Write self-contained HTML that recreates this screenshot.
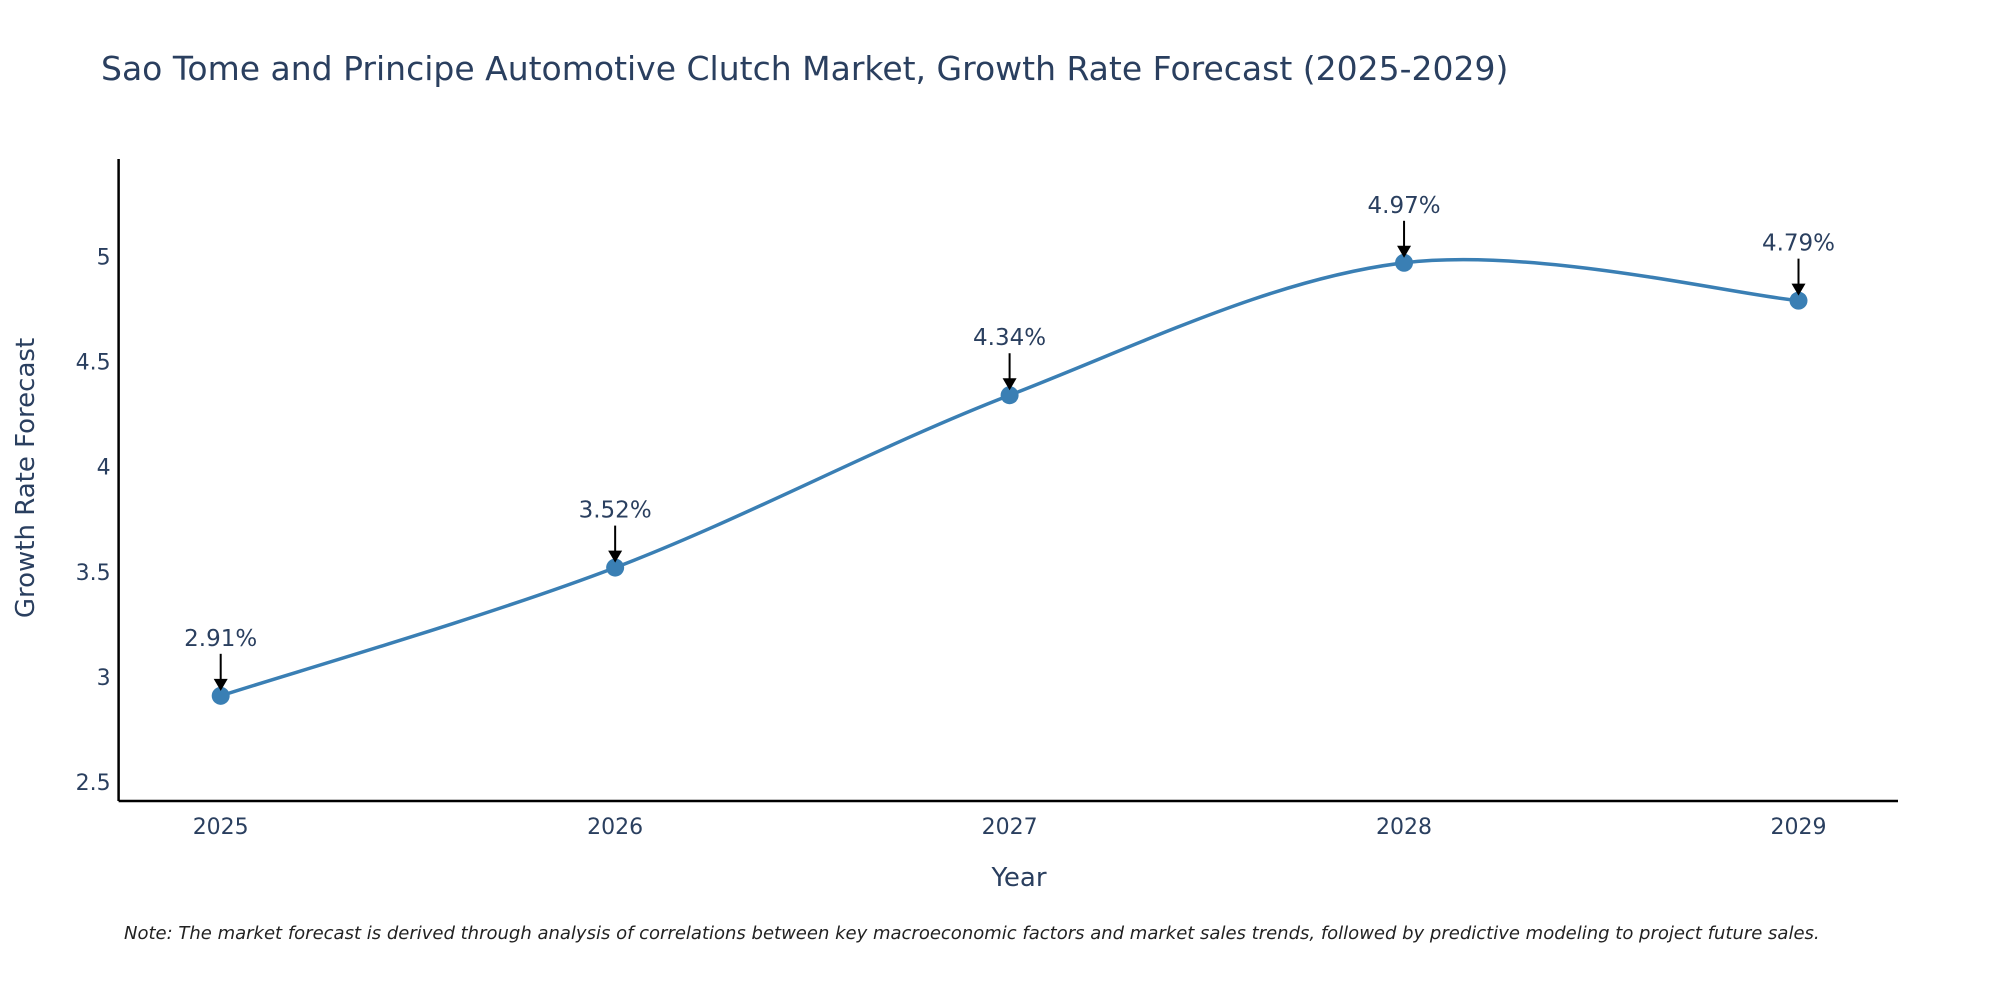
<!DOCTYPE html>
<html><head><meta charset="utf-8"><style>
body{margin:0;background:#fff;overflow:hidden;}
svg text{font-family:"DejaVu Sans","Liberation Sans",sans-serif;}
</style></head><body>
<svg id="chart" width="2000" height="1000">
<text x="101" y="80" font-size="33" fill="#2a3f5f">Sao Tome and Principe Automotive Clutch Market, Growth Rate Forecast (2025-2029)</text>
<g id="axes"></g>
<g id="series"></g>
<text x="1019" y="886" font-size="26" fill="#2a3f5f" text-anchor="middle">Year</text>
<text transform="translate(34,478) rotate(-90)" font-size="26" fill="#2a3f5f" text-anchor="middle">Growth Rate Forecast</text>
<text x="124" y="939" font-size="18" font-style="italic" fill="#222">Note: The market forecast is derived through analysis of correlations between key macroeconomic factors and market sales trends, followed by predictive modeling to project future sales.</text>
</svg>
<script>
const years = [2025, 2026, 2027, 2028, 2029];
const growth = [2.91, 3.52, 4.34, 4.97, 4.79];
const yTicks = [2.5, 3, 3.5, 4, 4.5, 5];
const NS = "http://www.w3.org/2000/svg";
const L = 118.6, R = 1898, T = 159, B = 801;
const xs = v => 220.7 + (v - 2025) * (1798.5 - 220.7) / 4;
const ys = v => 782 - (v - 2.5) * 210.2;
function mk(tag, attrs, parent) { const e = document.createElementNS(NS, tag); for (const k in attrs) e.setAttribute(k, attrs[k]); parent.appendChild(e); return e; }
const axes = document.getElementById('axes'), ser = document.getElementById('series');
let e = mk('line', {x1: L, y1: T, x2: L, y2: B, stroke: '#000', 'stroke-width': 2.5}, axes);


e = mk('line', {x1: L, y1: B, x2: R, y2: B, stroke: '#000', 'stroke-width': 2.5}, axes);


yTicks.forEach(t => {
  const tx = mk('text', {x: L - 8, y: ys(t) + 8, 'font-size': 22, fill: '#2a3f5f', 'text-anchor': 'end'}, axes);
  tx.textContent = t;
  
  
});
years.forEach(y => {
  const tx = mk('text', {x: xs(y), y: 834, 'font-size': 22, fill: '#2a3f5f', 'text-anchor': 'middle'}, axes);
  tx.textContent = y;
  
  
});
const pts = years.map((y, i) => [xs(y), ys(growth[i])]);
let d = `M${pts[0][0]},${pts[0][1]}`;
for (let i = 0; i < pts.length - 1; i++) {
  const p0 = pts[Math.max(0, i - 1)], p1 = pts[i], p2 = pts[i + 1], p3 = pts[Math.min(pts.length - 1, i + 2)];
  const k = 1 / 6;
  const c1 = [p1[0] + (p2[0] - p0[0]) * k, p1[1] + (p2[1] - p0[1]) * k];
  const c2 = [p2[0] - (p3[0] - p1[0]) * k, p2[1] - (p3[1] - p1[1]) * k];
  d += ` C${c1[0]},${c1[1]} ${c2[0]},${c2[1]} ${p2[0]},${p2[1]}`;
}
e = mk('path', {d: d, fill: 'none', stroke: '#3a7fb4', 'stroke-width': 3.5}, ser);


pts.forEach((p, i) => {
  const c = mk('circle', {cx: p[0], cy: p[1], r: 9, fill: '#3a7fb4'}, ser);
  
  
  const a = mk('line', {x1: p[0], y1: p[1] - 42, x2: p[0], y2: p[1] - 14, stroke: '#000', 'stroke-width': 2}, ser);
  
  
  const h = mk('polygon', {points: `${p[0]-7},${p[1]-17} ${p[0]+7},${p[1]-17} ${p[0]},${p[1]-5}`, fill: '#000'}, ser);
  
  
  const t = mk('text', {x: p[0], y: p[1] - 50, 'font-size': 23, fill: '#2a3f5f', 'text-anchor': 'middle'}, ser);
  t.textContent = growth[i].toFixed(2) + '%';
  
  
});
</script>
</body></html>
